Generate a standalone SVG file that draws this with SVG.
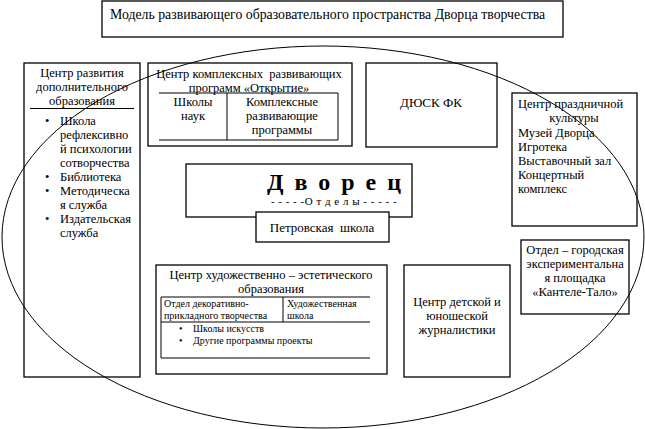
<svg xmlns="http://www.w3.org/2000/svg" width="645" height="429" viewBox="0 0 645 429" font-family="'Liberation Serif', 'DejaVu Serif', serif">
<style>
.b{fill:#fff;stroke:#000;stroke-width:1.3}
.l{stroke:#000;stroke-width:1;fill:none}
text{font-family:'Liberation Serif','DejaVu Serif',serif;fill:#000;font-size:13px}
.c{text-anchor:middle}
.m{font-size:12.5px}
.s{font-size:10px}
.t{font-size:13.8px}
</style>
<rect width="645" height="429" fill="#fff"/>
<g id="title">
<rect class="b" x="102" y="1" width="461" height="36"/>
<text class="t" x="110" y="19">Модель развивающего образовательного пространства Дворца творчества</text>
</g>
<g id="center-dop" class="m">
<rect class="b" x="24" y="63" width="116" height="314"/>
<text class="c m" x="82" y="77">Центр развития</text>
<text class="c m" x="82" y="91">дополнительного</text>
<text class="c m" x="82" y="105">образования</text>
<line class="l" x1="30" y1="108.5" x2="134" y2="108.5"/>
<text class="m" x="45" y="125">•</text><text class="m" x="60" y="125">Школа</text>
<text class="m" x="60" y="139">рефлексивно</text>
<text class="m" x="60" y="153">й психологии</text>
<text class="m" x="60" y="167">сотворчества</text>
<text class="m" x="45" y="181">•</text><text class="m" x="60" y="181">Библиотека</text>
<text class="m" x="45" y="195">•</text><text class="m" x="60" y="195">Методическа</text>
<text class="m" x="60" y="209">я служба</text>
<text class="m" x="45" y="223">•</text><text class="m" x="60" y="223">Издательская</text>
<text class="m" x="60" y="237">служба</text>
</g>
<g id="otkrytie">
<rect class="b" x="148" y="63" width="204" height="83"/>
<text class="c m" x="249" y="78">Центр комплексных&#160; развивающих</text>
<text class="c m" x="249" y="91.5">программ «Открытие»</text>
<polyline class="l" points="159,93 338,93 338,140 159,140"/>
<line class="l" x1="227" y1="93" x2="227" y2="140"/>
<text class="c m" x="193" y="106">Школы</text>
<text class="c m" x="193" y="120">наук</text>
<text class="c m" x="282" y="106">Комплексные</text>
<text class="c m" x="282" y="120">развивающие</text>
<text class="c m" x="282" y="134">программы</text>
</g>
<g id="dyusk">
<rect class="b" x="366" y="63" width="131" height="84"/>
<text class="c" x="431" y="107">ДЮСК ФК</text>
</g>
<g id="prazdnik">
<rect class="b" x="512" y="93" width="125" height="133"/>
<text class="m" x="518" y="108">Центр праздничной</text>
<text class="c m" x="574" y="122">культуры</text>
<text class="m" x="518" y="137">Музей Дворца</text>
<text class="m" x="518" y="151">Игротека</text>
<text class="m" x="518" y="165">Выставочный зал</text>
<text class="m" x="518" y="179">Концертный</text>
<text class="m" x="518" y="193">комплекс</text>
</g>
<g id="dvorets">
<rect class="b" x="186" y="164" width="226" height="53"/>
<text class="c" x="339.5" y="190" style="font-size:24px;font-weight:bold;letter-spacing:11px">Дворец</text>
<text class="c" x="334" y="205" style="font-size:11px;letter-spacing:0.5px">- - - - -О т д е л ы - - - - -</text>
</g>
<g id="petrovskaya">
<rect class="b" x="256" y="212" width="133" height="30"/>
<text class="c" x="322" y="232">Петровская&#160; школа</text>
</g>
<g id="hud">
<rect class="b" x="156" y="265" width="231" height="109"/>
<text class="c m" x="271" y="279">Центр художественно – эстетического</text>
<text class="c m" x="271" y="293">образования</text>
<polyline class="l" points="370,297 161,297 161,358 370,358"/>
<line class="l" x1="161" y1="322" x2="370" y2="322"/>
<line class="l" x1="283" y1="297" x2="283" y2="322"/>
<text class="s" x="164" y="307">Отдел декоративно-</text>
<text class="s" x="164" y="319">прикладного творчества</text>
<text class="s" x="287" y="307">Художественная</text>
<text class="s" x="287" y="319">школа</text>
<text class="s" x="179" y="332">•</text><text class="s" x="193" y="332">Школы искусств</text>
<text class="s" x="179" y="344">•</text><text class="s" x="193" y="344">Другие программы проекты</text>
</g>
<g id="zhurn">
<rect class="b" x="404" y="265" width="106" height="112"/>
<text class="c m" x="457" y="306">Центр детской и</text>
<text class="c m" x="457" y="320">юношеской</text>
<text class="c m" x="457" y="334">журналистики</text>
</g>
<g id="kantele">
<rect class="b" x="521" y="240" width="108" height="74"/>
<text class="c m" x="575" y="254">Отдел – городская</text>
<text class="c m" x="575" y="268">экспериментальна</text>
<text class="c m" x="575" y="282">я площадка</text>
<text class="c m" x="575" y="296">«Кантеле-Тало»</text>
</g>
<g id="connectors">
<ellipse class="l" cx="323" cy="237" rx="321" ry="191"/>
</g>
</svg>
